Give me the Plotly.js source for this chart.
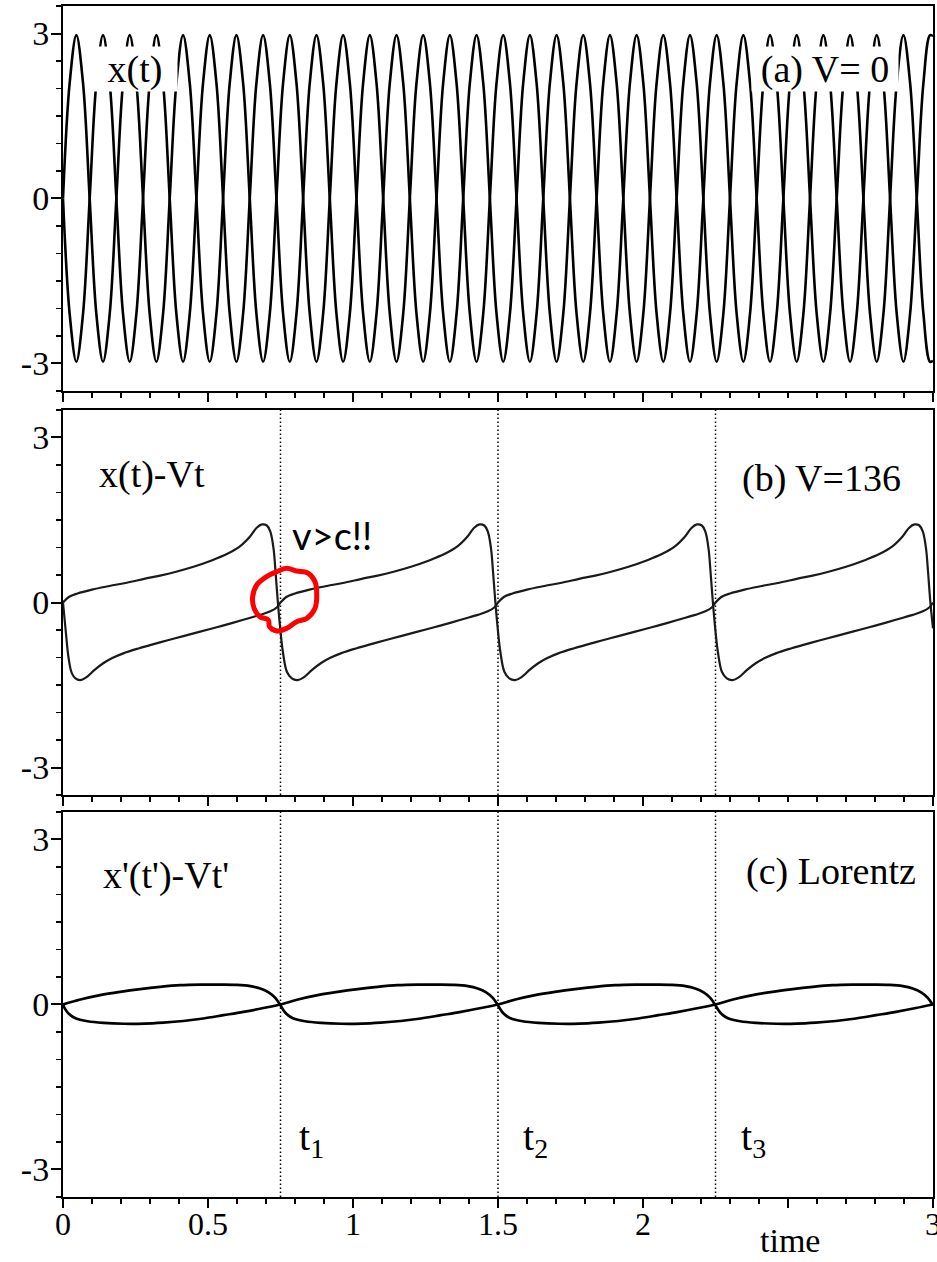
<!DOCTYPE html>
<html><head><meta charset="utf-8">
<script src="https://cdn.plot.ly/plotly-3.0.1.min.js"></script>
<style>html,body{margin:0;padding:0;background:#fff}#chart{width:937px;height:1262px}</style>
</head><body><div id="chart"></div>
<script>
// ---------- Panel (a): x(t), V = 0 ----------
const aTime = [
 0, 0.023, 0.046, 0.069, 0.092, 0.115, 0.138, 0.161,
 0.184, 0.207, 0.23, 0.253, 0.276, 0.299, 0.322, 0.345,
 0.368, 0.391, 0.414, 0.437, 0.46, 0.483, 0.506, 0.529,
 0.552, 0.575, 0.598, 0.621, 0.644, 0.667, 0.69, 0.713,
 0.736, 0.759, 0.782, 0.805, 0.828, 0.851, 0.874, 0.897,
 0.92, 0.943, 0.966, 0.989, 1.012, 1.035, 1.058, 1.081,
 1.104, 1.127, 1.15, 1.173, 1.196, 1.219, 1.242, 1.265,
 1.288, 1.311, 1.334, 1.357, 1.38, 1.403, 1.426, 1.449,
 1.472, 1.495, 1.518, 1.541, 1.564, 1.587, 1.61, 1.633,
 1.656, 1.679, 1.702, 1.725, 1.748, 1.771, 1.794, 1.817,
 1.84, 1.863, 1.886, 1.909, 1.932, 1.955, 1.978, 2.001,
 2.024, 2.047, 2.07, 2.093, 2.116, 2.139, 2.162, 2.185,
 2.208, 2.231, 2.254, 2.277, 2.3, 2.323, 2.346, 2.369,
 2.392, 2.415, 2.438, 2.461, 2.484, 2.507, 2.53, 2.553,
 2.576, 2.599, 2.622, 2.645, 2.668, 2.691, 2.714, 2.737,
 2.76, 2.783, 2.806, 2.829, 2.852, 2.875, 2.898, 2.921,
 2.944, 2.967, 2.99, 3.0];
const aX1 = [
 0, 2.1, 2.97, 2.1, 0, -2.1, -2.97, -2.1,
 0, 2.1, 2.97, 2.1, 0, -2.1, -2.97, -2.1,
 0, 2.1, 2.97, 2.1, 0, -2.1, -2.97, -2.1,
 0, 2.1, 2.97, 2.1, 0, -2.1, -2.97, -2.1,
 0, 2.1, 2.97, 2.1, 0, -2.1, -2.97, -2.1,
 0, 2.1, 2.97, 2.1, 0, -2.1, -2.97, -2.1,
 0, 2.1, 2.97, 2.1, 0, -2.1, -2.97, -2.1,
 0, 2.1, 2.97, 2.1, 0, -2.1, -2.97, -2.1,
 0, 2.1, 2.97, 2.1, 0, -2.1, -2.97, -2.1,
 0, 2.1, 2.97, 2.1, 0, -2.1, -2.97, -2.1,
 0, 2.1, 2.97, 2.1, 0, -2.1, -2.97, -2.1,
 0, 2.1, 2.97, 2.1, 0, -2.1, -2.97, -2.1,
 0, 2.1, 2.97, 2.1, 0, -2.1, -2.97, -2.1,
 0, 2.1, 2.97, 2.1, 0, -2.1, -2.97, -2.1,
 0, 2.1, 2.97, 2.1, 0, -2.1, -2.97, -2.1,
 0, 2.1, 2.97, 2.1, 0, -2.1, -2.97, -2.1,
 0, 2.1, 2.97, 2.95];
const aX2 = [
 0, -2.1, -2.97, -2.1, 0, 2.1, 2.97, 2.1,
 0, -2.1, -2.97, -2.1, 0, 2.1, 2.97, 2.1,
 0, -2.1, -2.97, -2.1, 0, 2.1, 2.97, 2.1,
 0, -2.1, -2.97, -2.1, 0, 2.1, 2.97, 2.1,
 0, -2.1, -2.97, -2.1, 0, 2.1, 2.97, 2.1,
 0, -2.1, -2.97, -2.1, 0, 2.1, 2.97, 2.1,
 0, -2.1, -2.97, -2.1, 0, 2.1, 2.97, 2.1,
 0, -2.1, -2.97, -2.1, 0, 2.1, 2.97, 2.1,
 0, -2.1, -2.97, -2.1, 0, 2.1, 2.97, 2.1,
 0, -2.1, -2.97, -2.1, 0, 2.1, 2.97, 2.1,
 0, -2.1, -2.97, -2.1, 0, 2.1, 2.97, 2.1,
 0, -2.1, -2.97, -2.1, 0, 2.1, 2.97, 2.1,
 0, -2.1, -2.97, -2.1, 0, 2.1, 2.97, 2.1,
 0, -2.1, -2.97, -2.1, 0, 2.1, 2.97, 2.1,
 0, -2.1, -2.97, -2.1, 0, 2.1, 2.97, 2.1,
 0, -2.1, -2.97, -2.1, 0, 2.1, 2.97, 2.1,
 0, -2.1, -2.97, -2.95];

// ---------- Panel (b): x(t) - Vt, V = 136 ----------
const bTimeA = [
 0, 0.02, 0.05, 0.10, 0.16, 0.22, 0.28, 0.335, 0.39, 0.45, 0.51, 0.565, 0.61, 0.645, 0.668, 0.686, 0.703, 0.715, 0.726, 0.733, 0.741,
 0.749, 0.758, 0.772, 0.789, 0.809, 0.83, 0.86, 0.89, 0.92, 0.96, 1.01, 1.05, 1.108, 1.165, 1.223, 1.28, 1.338, 1.384, 1.43, 1.465, 1.488,
 1.5, 1.52, 1.55, 1.6, 1.66, 1.72, 1.78, 1.835, 1.89, 1.95, 2.01, 2.065, 2.11, 2.145, 2.168, 2.186, 2.203, 2.215, 2.226, 2.233, 2.241,
 2.249, 2.258, 2.272, 2.289, 2.309, 2.33, 2.36, 2.39, 2.42, 2.46, 2.51, 2.55, 2.608, 2.665, 2.723, 2.78, 2.838, 2.884, 2.93, 2.965, 2.988, 3.0];
const bXA = [
 0, 0.10, 0.165, 0.235, 0.30, 0.36, 0.43, 0.49, 0.56, 0.65, 0.76, 0.88, 1.02, 1.20, 1.36, 1.42, 1.40, 1.29, 0.98, 0.55, 0.0,
 -0.47, -0.89, -1.26, -1.38, -1.41, -1.36, -1.22, -1.10, -1.01, -0.92, -0.835, -0.775, -0.69, -0.61, -0.53, -0.45, -0.365, -0.295, -0.225, -0.16, -0.085,
 0, 0.10, 0.165, 0.235, 0.30, 0.36, 0.43, 0.49, 0.56, 0.65, 0.76, 0.88, 1.02, 1.20, 1.36, 1.42, 1.40, 1.29, 0.98, 0.55, 0.0,
 -0.47, -0.89, -1.26, -1.38, -1.41, -1.36, -1.22, -1.10, -1.01, -0.92, -0.835, -0.775, -0.69, -0.61, -0.53, -0.45, -0.365, -0.295, -0.225, -0.16, -0.085, 0.0];
const bTimeB = [
 0, 0.01, 0.019, 0.03, 0.043, 0.059, 0.08, 0.11, 0.14, 0.17, 0.21, 0.26, 0.30, 0.358, 0.415, 0.473, 0.53, 0.588, 0.634, 0.68, 0.715, 0.738,
 0.75, 0.77, 0.80, 0.85, 0.91, 0.97, 1.03, 1.085, 1.14, 1.2, 1.26, 1.315, 1.36, 1.395, 1.418, 1.436, 1.453, 1.465, 1.476, 1.483, 1.491,
 1.499, 1.508, 1.522, 1.539, 1.559, 1.58, 1.61, 1.64, 1.67, 1.71, 1.76, 1.8, 1.858, 1.915, 1.973, 2.03, 2.088, 2.134, 2.18, 2.215, 2.238,
 2.25, 2.27, 2.30, 2.35, 2.41, 2.47, 2.53, 2.585, 2.64, 2.7, 2.76, 2.815, 2.86, 2.895, 2.918, 2.936, 2.953, 2.965, 2.976, 2.983, 2.991, 3.0];
const bXB = [
 0, -0.55, -1.0, -1.28, -1.38, -1.41, -1.36, -1.22, -1.10, -1.01, -0.92, -0.835, -0.775, -0.69, -0.61, -0.53, -0.45, -0.365, -0.295, -0.225, -0.16, -0.085,
 0, 0.10, 0.165, 0.235, 0.30, 0.36, 0.43, 0.49, 0.56, 0.65, 0.76, 0.88, 1.02, 1.20, 1.36, 1.42, 1.40, 1.29, 0.98, 0.55, 0.0,
 -0.47, -0.89, -1.26, -1.38, -1.41, -1.36, -1.22, -1.10, -1.01, -0.92, -0.835, -0.775, -0.69, -0.61, -0.53, -0.45, -0.365, -0.295, -0.225, -0.16, -0.085,
 0, 0.10, 0.165, 0.235, 0.30, 0.36, 0.43, 0.49, 0.56, 0.65, 0.76, 0.88, 1.02, 1.20, 1.36, 1.42, 1.40, 1.29, 0.98, 0.55, 0.0, -0.47];

// hand-drawn red circle around the v>c crossing (panel b)
const circleT = [0.668, 0.702, 0.737, 0.771, 0.806, 0.846, 0.869, 0.875, 0.869, 0.841, 0.806, 0.771, 0.737, 0.712, 0.708, 0.679, 0.659, 0.654, 0.668];
const circleY = [0.318, 0.470, 0.561, 0.621, 0.573, 0.530, 0.379, 0.136, -0.106, -0.288, -0.348, -0.470, -0.518, -0.439, -0.318, -0.258, -0.106, 0.106, 0.318];

// ---------- Panel (c): x'(t') - Vt', Lorentz ----------
const cTime1 = [
 0, 0.06, 0.128, 0.197, 0.266, 0.335, 0.404, 0.473, 0.542, 0.6, 0.646, 0.68, 0.709, 0.732, 0.748,
 0.756, 0.77, 0.793, 0.835, 0.89, 0.96, 1.03, 1.096, 1.165, 1.234, 1.303, 1.372, 1.441,
 1.5, 1.56, 1.628, 1.697, 1.766, 1.835, 1.904, 1.973, 2.042, 2.1, 2.146, 2.18, 2.209, 2.232, 2.248,
 2.256, 2.27, 2.293, 2.335, 2.39, 2.46, 2.53, 2.596, 2.665, 2.734, 2.803, 2.872, 2.941, 3.0];
const cX1 = [
 0, 0.09, 0.17, 0.23, 0.28, 0.32, 0.35, 0.36, 0.36, 0.355, 0.333, 0.29, 0.22, 0.12, 0.0,
 -0.07, -0.17, -0.25, -0.305, -0.335, -0.35, -0.348, -0.33, -0.30, -0.255, -0.195, -0.134, -0.065,
 0, 0.09, 0.17, 0.23, 0.28, 0.32, 0.35, 0.36, 0.36, 0.355, 0.333, 0.29, 0.22, 0.12, 0.0,
 -0.07, -0.17, -0.25, -0.305, -0.335, -0.35, -0.348, -0.33, -0.30, -0.255, -0.195, -0.134, -0.065, 0.0];
const cTime2 = [
 0, 0.006, 0.02, 0.043, 0.085, 0.14, 0.21, 0.28, 0.346, 0.415, 0.484, 0.553, 0.622, 0.691,
 0.75, 0.81, 0.878, 0.947, 1.016, 1.085, 1.154, 1.223, 1.292, 1.35, 1.396, 1.43, 1.459, 1.482, 1.498,
 1.506, 1.52, 1.543, 1.585, 1.64, 1.71, 1.78, 1.846, 1.915, 1.984, 2.053, 2.122, 2.191,
 2.25, 2.31, 2.378, 2.447, 2.516, 2.585, 2.654, 2.723, 2.792, 2.85, 2.896, 2.93, 2.959, 2.982, 2.998];
const cX2 = [
 0, -0.07, -0.17, -0.25, -0.305, -0.335, -0.35, -0.348, -0.33, -0.30, -0.255, -0.195, -0.134, -0.065,
 0, 0.09, 0.17, 0.23, 0.28, 0.32, 0.35, 0.36, 0.36, 0.355, 0.333, 0.29, 0.22, 0.12, 0.0,
 -0.07, -0.17, -0.25, -0.305, -0.335, -0.35, -0.348, -0.33, -0.30, -0.255, -0.195, -0.134, -0.065,
 0, 0.09, 0.17, 0.23, 0.28, 0.32, 0.35, 0.36, 0.36, 0.355, 0.333, 0.29, 0.22, 0.12, 0.0];

// ---------- marks, ticks, labels ----------
const markTimes = [0.75, 1.5, 2.25];
const markLabels = ['t<sub>1</sub>', 't<sub>2</sub>', 't<sub>3</sub>'];
const markLabelX = [0.807, 1.578, 2.331];
const xTickVals = [0, 0.5, 1, 1.5, 2, 2.5, 3];
const xTickText = ['0', '0.5', '1', '1.5', '2', '', '3'];
const yTickVals = [-3, 0, 3];
const yTickText = ['-3', '0', '3'];

const SERIF = 'Liberation Serif, Times New Roman, serif';

function line(x, y, xa, ya, w, color) {
  return {x: x, y: y, xaxis: xa, yaxis: ya, type: 'scatter', mode: 'lines',
    line: {color: color || '#000', width: w, shape: 'spline', smoothing: 1},
    hoverinfo: 'skip', showlegend: false};
}

const data = [
  line(aTime, aX1, 'x', 'y', 2.6),
  line(aTime, aX2, 'x', 'y', 2.6),
  line(bTimeA, bXA, 'x2', 'y2', 2.2, '#1a1a1a'),
  line(bTimeB, bXB, 'x2', 'y2', 2.2, '#1a1a1a'),
  line(circleT, circleY, 'x2', 'y2', 5, '#ff0000'),
  line(cTime1, cX1, 'x3', 'y3', 2.7),
  line(cTime2, cX2, 'x3', 'y3', 2.7)
];

const xBase = {
  range: [0, 3], showline: true, mirror: true, linecolor: '#000', linewidth: 2,
  showgrid: false, zeroline: false, ticks: 'outside', tickmode: 'array',
  tickvals: xTickVals, ticktext: xTickText, ticklen: 9, tickwidth: 2, tickcolor: '#000',
  minor: {tickmode: 'linear', tick0: 0, dtick: 0.1, ticks: 'outside', ticklen: 5, tickwidth: 1.5, tickcolor: '#000', showgrid: false},
  tickfont: {family: SERIF, size: 32, color: '#000'}, ticklabeloverflow: 'allow', ticklabelstandoff: -11, fixedrange: true
};
const yBase = {
  range: [-3.5, 3.5], showline: true, mirror: true, linecolor: '#000', linewidth: 2,
  showgrid: false, zeroline: false, ticks: 'outside', tickmode: 'array',
  tickvals: yTickVals, ticktext: yTickText, ticklen: 10, tickwidth: 2, tickcolor: '#000',
  minor: {tickmode: 'linear', tick0: 0, dtick: 0.5, ticks: 'outside', ticklen: 5, tickwidth: 1.5, tickcolor: '#000', showgrid: false},
  tickfont: {family: SERIF, size: 34, color: '#000'}, ticklabeloverflow: 'allow', ticklabelstandoff: -5, fixedrange: true
};

const shapes = [];
markTimes.forEach(function (t) {
  ['2', '3'].forEach(function (k) {
    shapes.push({type: 'line', layer: 'below', xref: 'x' + k, yref: 'y' + k + ' domain',
      x0: t, x1: t, y0: 0, y1: 1, line: {color: '#000', width: 1.5, dash: '1.5px,2.5px'}});
  });
});

function label(xa, ya, x, y, text, extra) {
  return Object.assign({xref: xa, yref: ya, x: x, y: y, text: text, showarrow: false,
    font: {family: SERIF, size: 38, color: '#000'}, xanchor: 'center', yanchor: 'middle'}, extra || {});
}

const annotations = [
  label('x', 'y', 0.248, 2.36, 'x(t)', {bgcolor: '#fff', width: 84, height: 44, borderpad: 0}),
  label('x', 'y', 2.628, 2.36, '(a) V= 0', {bgcolor: '#fff', width: 146, height: 44, borderpad: 0}),
  label('x2', 'y2', 0.307, 2.32, 'x(t)-Vt'),
  label('x2', 'y2', 2.617, 2.25, '(b) V=136'),
  label('x2', 'y2', 0.928, 1.23, 'v&gt;c!!', {font: {family: 'Lato, Noto Sans, sans-serif', size: 38, color: '#000'}}),
  label('x3', 'y3', 0.355, 2.34, "x'(t')-Vt'"),
  label('x3', 'y3', 2.648, 2.41, '(c) Lorentz'),
  label('x3', 'paper', 2.507, -0.0365, 'time', {font: {family: SERIF, size: 34, color: '#000'}})
];
markTimes.forEach(function (t, i) {
  annotations.push(label('x3', 'y3', markLabelX[i], -2.45, markLabels[i], {xanchor: 'left', font: {family: SERIF, size: 40, color: '#000'}}));
});

const layout = {
  width: 937, height: 1262,
  margin: {l: 63, r: 4, t: 6, b: 65, pad: 0},
  font: {family: SERIF, size: 32, color: '#000'},
  paper_bgcolor: '#fff', plot_bgcolor: '#fff', showlegend: false,
  xaxis: Object.assign({}, xBase, {anchor: 'y', showticklabels: false}),
  xaxis2: Object.assign({}, xBase, {anchor: 'y2', showticklabels: false}),
  xaxis3: Object.assign({}, xBase, {anchor: 'y3'}),
  yaxis: Object.assign({}, yBase, {domain: [0.6768, 1], anchor: 'x'}),
  yaxis2: Object.assign({}, yBase, {domain: [0.3375, 0.6608], anchor: 'x2'}),
  yaxis3: Object.assign({}, yBase, {domain: [0, 0.3233], anchor: 'x3'}),
  shapes: shapes,
  annotations: annotations
};

Plotly.newPlot('chart', data, layout, {staticPlot: true, displayModeBar: false});
</script></body></html>
